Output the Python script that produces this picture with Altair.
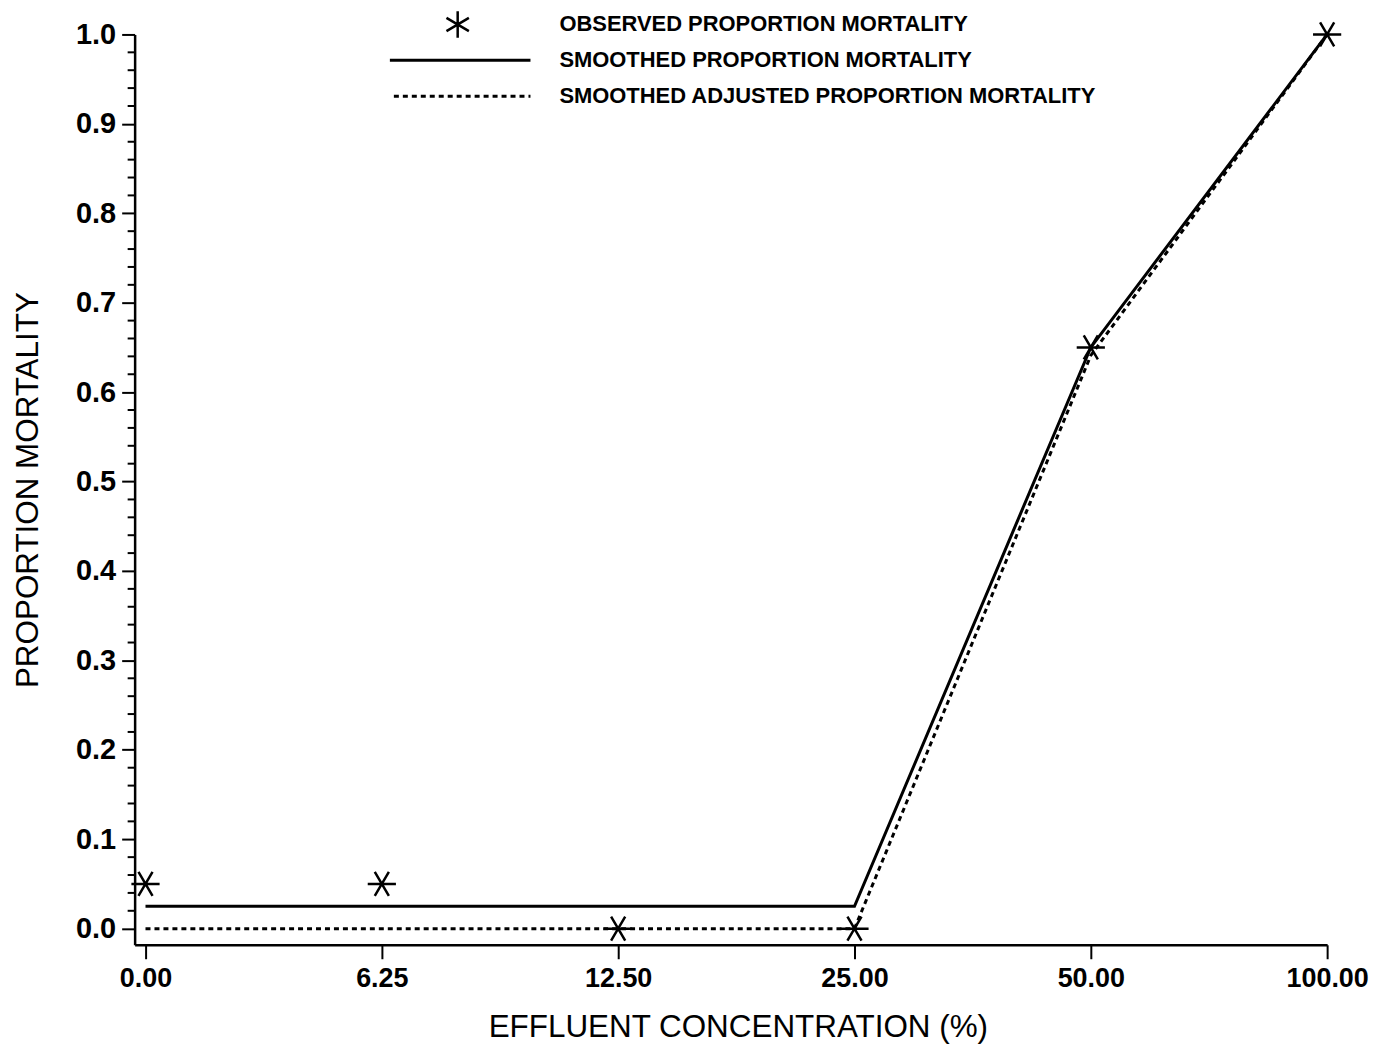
import json
import altair as alt
import pandas as pd

# ---- data ----
CONC_LABELS = ["0.00", "6.25", "12.50", "25.00", "50.00", "100.00"]
OBSERVED = [0.05, 0.05, 0.0, 0.0, 0.65, 1.0]
SMOOTHED = [0.025, 0.025, 0.025, 0.025, 0.65, 1.0]
ADJUSTED = [0.0, 0.0, 0.0, 0.0, 0.641, 1.0]
Y_MAJOR = [0.0, 0.1, 0.2, 0.3, 0.4, 0.5, 0.6, 0.7, 0.8, 0.9, 1.0]
Y_MINOR = [round(i * 0.02, 2) for i in range(51) if i % 5 != 0]
LEGEND_LABELS = [
    "OBSERVED PROPORTION MORTALITY",
    "SMOOTHED PROPORTION MORTALITY",
    "SMOOTHED ADJUSTED PROPORTION MORTALITY",
]
X_TITLE = "EFFLUENT CONCENTRATION (%)"
Y_TITLE = "PROPORTION MORTALITY"

FONT = "Liberation Sans"

idx = list(range(len(CONC_LABELS)))
df = pd.DataFrame({
    "idx": idx * 3,
    "value": OBSERVED + SMOOTHED + ADJUSTED,
    "series": ["obs"] * 6 + ["smooth"] * 6 + ["adj"] * 6,
})
minor_df = pd.DataFrame({"value": Y_MINOR})

label_expr = json.dumps(CONC_LABELS) + "[datum.value]"

x_enc = alt.X(
    "idx:Q",
    scale=alt.Scale(domain=[-0.046, 5], nice=False, zero=False),
    axis=alt.Axis(
        values=idx, labelExpr=label_expr, grid=False,
        tickSize=14, tickWidth=2, tickColor="black",
        domainWidth=2.5, domainColor="black",
        labelFont=FONT, labelFontSize=27, labelFontWeight="bold", labelColor="black",
        labelPadding=7, labelFlush=False,
        titleFont=FONT, titleFontSize=31.5, titleFontWeight="normal", titleColor="black",
        titlePadding=20, titleX=605,
    ),
    title=X_TITLE,
)

y_enc = alt.Y(
    "value:Q",
    scale=alt.Scale(domain=[-0.018, 1.0], nice=False, zero=False),
    axis=alt.Axis(
        values=Y_MAJOR, format=".1f", grid=False,
        tickSize=13, tickWidth=2, tickColor="black",
        domainWidth=2.5, domainColor="black",
        labelFont=FONT, labelFontSize=29, labelFontWeight="bold", labelColor="black",
        labelPadding=6, labelFlush=False,
        titleFont=FONT, titleFontSize=31.5, titleFontWeight="normal", titleColor="black",
        titlePadding=31,
    ),
    title=Y_TITLE,
)

STAR = "M-1,0L1,0M-0.5,-0.85L0.5,0.85M-0.5,0.85L0.5,-0.85"

smooth = alt.Chart(df).transform_filter("datum.series == 'smooth'").mark_line(
    color="black", strokeWidth=3
).encode(x=x_enc, y=y_enc)

adj = alt.Chart(df).transform_filter("datum.series == 'adj'").mark_line(
    color="black", strokeWidth=3, strokeDash=[5, 4]
).encode(x=x_enc, y=y_enc)

obs = alt.Chart(df).transform_filter("datum.series == 'obs'").mark_point(
    shape=STAR, size=800, filled=False, stroke="black", strokeWidth=2.5, opacity=1
).encode(x=x_enc, y=y_enc)

minor = alt.Chart(minor_df).mark_rule(color="black", strokeWidth=2).encode(
    y=y_enc, x=alt.value(-7), x2=alt.value(0)
)

# ---- legend (drawn manually above the plot) ----
leg_star = alt.Chart(pd.DataFrame({"k": [0]})).mark_point(
    shape=STAR, size=700, filled=False, stroke="black", strokeWidth=2.5, angle=90, opacity=1
).encode(x=alt.value(324), y=alt.value(-10))

leg_solid = alt.Chart(pd.DataFrame({"k": [0]})).mark_rule(
    color="black", strokeWidth=3
).encode(x=alt.value(256), x2=alt.value(397), y=alt.value(26))

leg_dash = alt.Chart(pd.DataFrame({"k": [0]})).mark_rule(
    color="black", strokeWidth=3, strokeDash=[5, 4]
).encode(x=alt.value(260), x2=alt.value(397), y=alt.value(62))

leg_texts = []
for i, lab in enumerate(LEGEND_LABELS):
    leg_texts.append(
        alt.Chart(pd.DataFrame({"label": [lab]})).mark_text(
            font=FONT, fontSize=22, fontWeight="bold", color="black",
            align="left", baseline="middle",
        ).encode(x=alt.value(426), y=alt.value(-10 + 36 * i), text="label:N")
    )

chart = alt.layer(
    minor, smooth, adj, obs, leg_star, leg_solid, leg_dash, *leg_texts
).properties(
    width=1196, height=913,
    autosize=alt.AutoSizeParams(type="none"),
    padding={"left": 127, "top": 25, "right": 45, "bottom": 100},
    background="white",
).configure_view(strokeWidth=0)

chart.save("out.html", embed_options={"renderer": "svg", "actions": False})
